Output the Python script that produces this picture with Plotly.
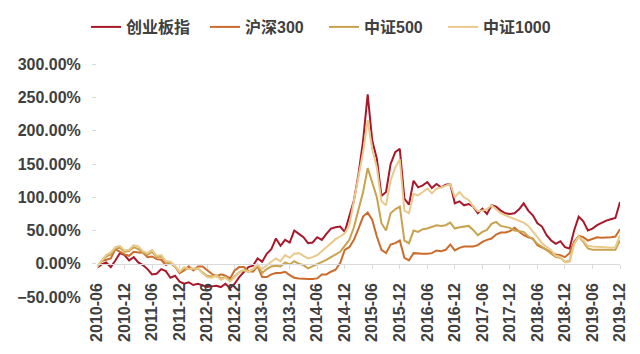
import plotly.graph_objects as go
import pandas as pd

# Monthly categories 2010-06 .. 2019-12
months = [p.strftime("%Y-%m") for p in pd.period_range("2010-06", "2019-12", freq="M")]
tick_labels = ["2010-06", "2010-12", "2011-06", "2011-12", "2012-06", "2012-12",
               "2013-06", "2013-12", "2014-06", "2014-12", "2015-06", "2015-12",
               "2016-06", "2016-12", "2017-06", "2017-12", "2018-06", "2018-12",
               "2019-06", "2019-12"]

# Cumulative returns (%)
chinext = [-6, -1, 2, -5, 5, 16, 13, 5, 10, 2, -2, -8, -16, -15, -8, -11, -21, -18, -27, -30,
           -28, -32, -30, -33, -35, -34, -33, -35, -30, -37, -30, -20, -12, -5, -3, 8, 3, 15, 22, 38,
           27, 36, 32, 50, 45, 40, 31, 32, 40, 36, 45, 53, 55, 56, 48, 72, 95, 135, 185, 255,
           185, 158, 102, 108, 150, 168, 173, 98, 89, 125, 115, 118, 123, 114, 120, 115, 119, 120, 91, 94,
           88, 90, 86, 76, 83, 75, 88, 86, 80, 76, 75, 76, 82, 91, 80, 73, 61, 56, 43, 35,
           30, 34, 25, 23, 50, 71, 64, 50, 53, 58, 62, 65, 67, 69, 93]
csi300 = [-6, 4, 6, 8, 22, 18, 14, 12, 18, 17, 17, 10, 11, 7, 6, -2, 2, -4, -14, -10,
          -4, -10, -4, -4, -10, -15, -19, -16, -18, -22, -10, -5, -5, -11, -12, -4, -20, -20, -16, -14,
          -14, -12, -17, -21, -22, -23, -23, -23, -22, -16, -16, -12, -9, 1, 21, 25, 36, 53, 71, 77,
          66, 41, 21, 16, 29, 31, 35, 9, 5, 16, 15, 15, 15, 16, 20, 19, 21, 29, 20, 24,
          26, 26, 26, 28, 33, 36, 38, 44, 47, 47, 49, 54, 48, 43, 40, 38, 28, 25, 21, 17,
          14, 13, 10, 16, 33, 42, 40, 35, 38, 40, 39, 39, 40, 41, 52]
csi500 = [-5, 4, 11, 14, 23, 24, 18, 19, 25, 22, 17, 13, 18, 10, 11, 2, 1, -4, -12, -7,
          -8, -7, -7, -13, -18, -19, -17, -22, -20, -25, -19, -13, -10, -12, -9, -3, -14, -8, -4, -3,
          -4, 2, -1, 4, 0, -2, -7, -4, 0, 3, 6, 10, 14, 18, 27, 36, 55, 80, 108, 144,
          120, 100, 61, 50, 76, 82, 86, 35, 31, 50, 48, 52, 53, 56, 58, 57, 58, 62, 53, 55,
          56, 57, 51, 43, 48, 51, 60, 63, 57, 55, 54, 50, 49, 48, 41, 37, 30, 26, 21, 15,
          10, 9, 3, 4, 30, 41, 33, 23, 21, 21, 21, 21, 20, 21, 35]
csi1000 = [-4, 5, 13, 17, 25, 27, 20, 21, 28, 26, 19, 16, 21, 12, 13, 4, 3, -3, -12, -5,
           -8, -7, -7, -14, -20, -21, -18, -24, -21, -27, -20, -13, -9, -12, -8, -1, -8, -2, 3, 8,
           4, 13, 9, 15, 16, 12, 8, 10, 13, 19, 25, 30, 37, 41, 46, 58, 95, 135, 168, 216,
           172, 145, 94, 88, 125, 145, 157, 80, 76, 105, 103, 108, 113, 106, 113, 115, 117, 120, 100, 108,
           100, 96, 86, 79, 80, 82, 88, 82, 76, 73, 70, 68, 64, 62, 57, 49, 40, 31, 26, 20,
           12, 10, 2, 3, 30, 41, 35, 27, 26, 26, 25, 25, 24, 25, 43]

names = ["创业板指", "沪深300", "中证500", "中证1000"]
series = [chinext, csi300, csi500, csi1000]
colors = ["#A8182A", "#CC6B2C", "#C9A24E", "#E9CA8C"]

fig = go.Figure()
for name, vals, c in zip(names, series, colors):
    fig.add_trace(go.Scatter(x=months, y=vals, mode="lines", name=name,
                             line=dict(color=c, width=2)))

family = "Liberation Sans, Arial, Noto Sans CJK SC, sans-serif"
fig.update_layout(
    width=640, height=354,
    margin=dict(l=97, r=20, t=60, b=57),
    paper_bgcolor="white", plot_bgcolor="white",
    font=dict(family=family, size=16, color="#404040", weight="bold"),
    showlegend=True,
    legend=dict(orientation="h", xref="container", yref="container",
                x=86 / 640, y=1 - 27 / 354, xanchor="left", yanchor="middle",
                entrywidth=74, entrywidthmode="pixels",
                font=dict(family=family, size=16, color="#404040", weight="bold"),
                bgcolor="rgba(0,0,0,0)"),
)
fig.update_xaxes(type="category", tickmode="array", tickvals=tick_labels, ticktext=tick_labels,
                 tickangle=-90, range=[0, len(months) - 1], anchor="free", position=50 / 350,
                 showline=True, linecolor="#D9D9D9", linewidth=1, ticks="outside", ticklen=4,
                 tickcolor="#D9D9D9", showgrid=False, zeroline=False, ticklabelstandoff=8)
fig.update_yaxes(range=[-50, 300], dtick=50, tick0=0, tickformat=".2f", ticksuffix="%",
                 showgrid=False, zeroline=False, showline=False,
                 ticks="outside", ticklen=4, tickcolor="#D9D9D9", ticklabelstandoff=8)
fig.write_html("out.html")
